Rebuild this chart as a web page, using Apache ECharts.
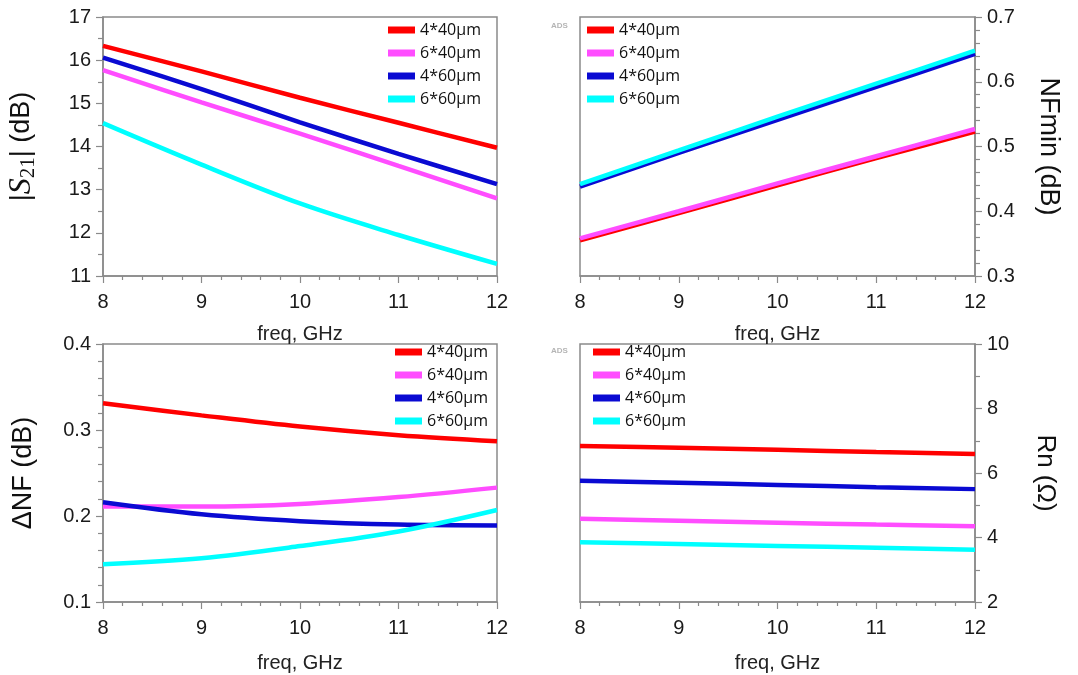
<!DOCTYPE html>
<html><head><meta charset="utf-8">
<script src="https://cdn.jsdelivr.net/npm/echarts@6/dist/echarts.min.js"></script>
<style>html,body{margin:0;padding:0;background:#fff}#c{width:1078px;height:675px}</style>
</head><body><div id="c"></div>
<script>
const freq = [8, 9, 10, 11, 12];
const names = ['4*40μm', '6*40μm', '4*60μm', '6*60μm'];
const colors = ['#ff0000', '#ff4dff', '#0a0ad2', '#00ffff'];

const s21_4x40 = [16.33, 15.74, 15.13, 14.55, 13.97];
const s21_6x40 = [15.77, 15.02, 14.30, 13.55, 12.80];
const s21_4x60 = [16.06, 15.33, 14.56, 13.83, 13.13];
const s21_6x60 = [14.54, 13.58, 12.68, 11.95, 11.28];

const nf_4x40 = [0.355, 0.397, 0.440, 0.482, 0.523];
const nf_6x40 = [0.358, 0.400, 0.443, 0.485, 0.527];
const nf_4x60 = [0.438, 0.490, 0.541, 0.592, 0.643];
const nf_6x60 = [0.442, 0.494, 0.546, 0.597, 0.648];

const dnf_4x40 = [0.331, 0.317, 0.304, 0.294, 0.287];
const dnf_6x40 = [0.211, 0.211, 0.214, 0.222, 0.233];
const dnf_4x60 = [0.216, 0.202, 0.194, 0.190, 0.189];
const dnf_6x60 = [0.144, 0.151, 0.165, 0.182, 0.207];

const rn_4x40 = [6.84, 6.78, 6.72, 6.65, 6.59];
const rn_6x40 = [4.58, 4.52, 4.46, 4.40, 4.35];
const rn_4x60 = [5.76, 5.70, 5.63, 5.56, 5.50];
const rn_6x60 = [3.85, 3.80, 3.74, 3.68, 3.62];

const xTicks = [8, 9, 10, 11, 12];

const panels = [
  [s21_4x40, s21_6x40, s21_4x60, s21_6x60],
  [nf_4x40, nf_6x40, nf_4x60, nf_6x60],
  [dnf_4x40, dnf_6x40, dnf_4x60, dnf_6x60],
  [rn_4x40, rn_6x40, rn_4x60, rn_6x60]
];

const grids = [
  {left: 103, top: 17, width: 394, height: 259},
  {left: 580, top: 17, width: 395, height: 259},
  {left: 103, top: 344, width: 394, height: 258},
  {left: 580, top: 344, width: 395, height: 258}
];
const axisGray = '#8a8a8a';
const fmt = v => String(parseFloat(Number(v).toFixed(6)));

const xAxes = grids.map((g, i) => ({
  type: 'value', gridIndex: i, min: xTicks[0], max: xTicks[xTicks.length - 1], interval: 1,
  name: 'freq, GHz', nameLocation: 'middle', nameGap: i < 2 ? 48 : 51,
  nameTextStyle: {fontFamily: 'Liberation Sans', fontSize: 20, color: '#222'},
  axisLine: {show: true, lineStyle: {color: axisGray, width: 1.5}},
  axisTick: {show: true, length: 7, lineStyle: {color: axisGray, width: 1.2}},
  minorTick: {show: true, splitNumber: 5, length: 4, lineStyle: {color: axisGray, width: 1.2}},
  splitLine: {show: false},
  axisLabel: {fontFamily: 'Liberation Sans', fontSize: 20, color: '#1a1a1a', margin: 16, formatter: fmt}
}));

const yCfg = [
  {min: 11, max: 17, interval: 1, minor: 2, pos: 'left', gap: 64, rot: 90, fs: 27,
   name: '|{s|S}{sub|21}| (dB)'},
  {min: 0.3, max: 0.7, interval: 0.1, minor: 5, pos: 'right', gap: 60, rot: -90, fs: 27, name: 'NFmin (dB)'},
  {min: 0.1, max: 0.4, interval: 0.1, minor: 5, pos: 'left', gap: 66, rot: 90, fs: 27, name: 'ΔNF (dB)'},
  {min: 2, max: 10, interval: 2, minor: 2, pos: 'right', gap: 57, rot: -90, fs: 26, name: 'Rn (Ω)'}
];

const yAxes = yCfg.map((c, i) => ({
  type: 'value', gridIndex: i, min: c.min, max: c.max, interval: c.interval, position: c.pos,
  name: c.name, nameLocation: 'middle', nameGap: c.gap, nameRotate: c.rot,
  nameTextStyle: {fontFamily: 'Liberation Sans', fontSize: c.fs, color: '#111',
    rich: {
      s: {fontFamily: 'Liberation Serif', fontStyle: 'italic', fontSize: 32, color: '#111'},
      sub: {fontFamily: 'Liberation Serif', fontSize: 21, color: '#111', padding: [13, 0, 0, 0]}
    }},
  axisLine: {show: true, lineStyle: {color: axisGray, width: 1.5}},
  axisTick: {show: true, length: 7, lineStyle: {color: axisGray, width: 1.2}},
  minorTick: {show: true, splitNumber: c.minor, length: 5, lineStyle: {color: axisGray, width: 1.2}},
  splitLine: {show: false},
  axisLabel: {fontFamily: 'Liberation Sans', fontSize: 20, color: '#1a1a1a', margin: 12, formatter: fmt}
}));

const series = [];
panels.forEach((arrs, gi) => {
  arrs.forEach((arr, k) => {
    series.push({
      type: 'line', name: names[k], xAxisIndex: gi, yAxisIndex: gi,
      data: freq.map((f, j) => [f, arr[j]]),
      smooth: 0.35, showSymbol: false, symbol: 'none',
      lineStyle: {color: colors[k], width: 4.5}, itemStyle: {color: colors[k]},
      z: 2 + k
    });
  });
});

const legendPos = [
  {left: 388, top: 22}, {left: 587, top: 22}, {left: 395, top: 344}, {left: 593, top: 344}
];
const legends = legendPos.map(p => ({
  left: p.left, top: p.top, orient: 'vertical', padding: 0, itemGap: 7,
  itemWidth: 27, itemHeight: 7, icon: 'rect', selectedMode: false,
  data: names,
  textStyle: {fontFamily: 'Open Sans', fontSize: 16, color: '#111', lineHeight: 16, padding: [0, 0, 0, 0]},
  itemStyle: {borderWidth: 0}
}));

const chart = echarts.init(document.getElementById('c'), null, {renderer: 'canvas'});
chart.setOption({
  animation: false,
  backgroundColor: '#ffffff',
  grid: grids.map(g => Object.assign({show: true, borderColor: axisGray, borderWidth: 1.5, backgroundColor: 'transparent'}, g)),
  xAxis: xAxes,
  yAxis: yAxes,
  legend: legends,
  series: series,
  graphic: [
    {type: 'text', left: 551, top: 22, style: {text: 'ADS', font: 'bold 8px Liberation Sans', fill: '#b5b5b5'}},
    {type: 'text', left: 551, top: 347, style: {text: 'ADS', font: 'bold 8px Liberation Sans', fill: '#b5b5b5'}}
  ]
});
</script>
</body></html>
